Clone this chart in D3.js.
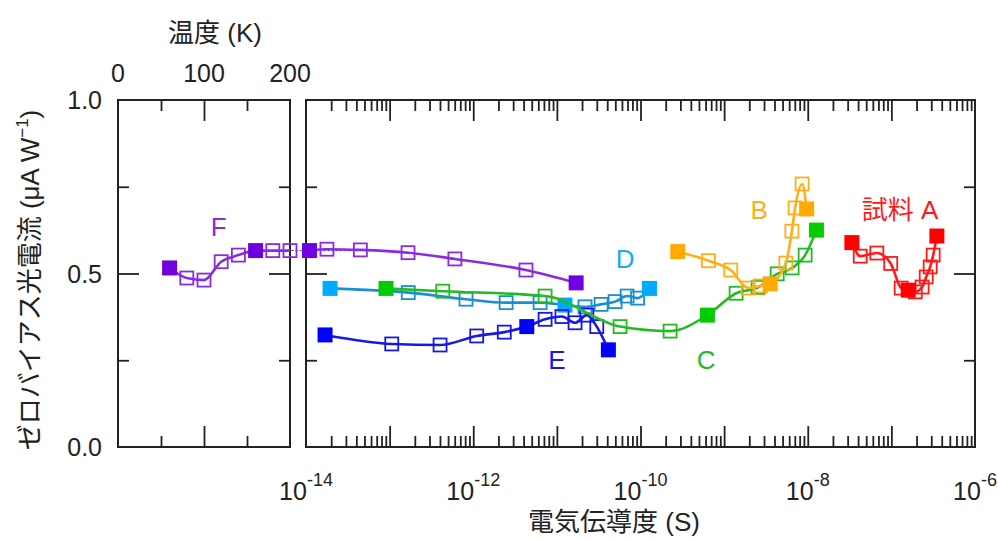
<!DOCTYPE html>
<html>
<head>
<meta charset="utf-8">
<script src="https://cdn.jsdelivr.net/npm/d3@7"></script>
<style>
  body { margin: 0; background: #fff; }
  text { font-family: "Liberation Sans", Arial, "Noto Sans CJK JP", sans-serif; fill: #222; }
</style>
</head>
<body>
<script>
// chart size
var w = 999, h = 540;

// tick labels
var tempTicks = [0, 100, 200];
var tempMinor = [50, 150];
var yTicks = [0.0, 0.5, 1.0];
var yMinor = [0.25, 0.75];
var sTickExps = [-14, -12, -10, -8, -6];

// sample F vs temperature (left panel)
var fTemp = [60, 80, 100, 120, 140, 160, 180, 200];
var fTempVal = [0.516, 0.487, 0.481, 0.534, 0.553, 0.566, 0.566, 0.566];
var fTempFill = [1, 0, 0, 0, 0, 1, 0, 0];

// samples vs conductance (right panel)
var fS = [1.10e-14, 1.78e-14, 4.47e-14, 1.66e-13, 6.03e-13, 4.27e-12, 1.70e-11];
var fVal = [0.566, 0.570, 0.568, 0.560, 0.542, 0.510, 0.473];
var fFill = [1, 0, 0, 0, 0, 0, 1];

var dS = [1.94e-14, 1.67e-13, 8.20e-13, 2.47e-12, 6.30e-12, 1.25e-11, 2.17e-11, 3.38e-11, 4.97e-11, 6.92e-11, 9.23e-11, 1.28e-10];
var dVal = [0.457, 0.445, 0.426, 0.416, 0.416, 0.409, 0.404, 0.411, 0.419, 0.435, 0.429, 0.457];
var dFill = [1, 0, 0, 0, 0, 1, 0, 0, 0, 0, 0, 1];

var eS = [1.69e-14, 1.06e-13, 4.01e-13, 1.10e-12, 2.35e-12, 4.37e-12, 7.23e-12, 1.15e-11, 1.65e-11, 2.28e-11, 3.00e-11, 4.13e-11];
var eVal = [0.323, 0.297, 0.294, 0.320, 0.331, 0.347, 0.368, 0.376, 0.358, 0.380, 0.347, 0.280];
var eFill = [1, 0, 0, 0, 0, 1, 0, 0, 0, 0, 0, 1];

var cS = [9.06e-14, 4.32e-13, 7.23e-12, 5.70e-11, 2.26e-10, 6.31e-10, 1.39e-9, 2.55e-9, 4.31e-9, 6.50e-9, 9.31e-9, 1.27e-8];
var cVal = [0.457, 0.449, 0.435, 0.347, 0.334, 0.380, 0.443, 0.460, 0.499, 0.516, 0.553, 0.625];
var cFill = [1, 0, 0, 0, 0, 1, 0, 0, 0, 0, 0, 1];

var bS = [2.79e-10, 6.49e-10, 1.20e-9, 1.94e-9, 2.70e-9, 3.55e-9, 5.47e-9, 6.46e-9, 7.06e-9, 8.57e-9, 9.70e-9];
var bVal = [0.563, 0.537, 0.510, 0.458, 0.464, 0.470, 0.530, 0.622, 0.689, 0.758, 0.686];
var bFill = [1, 0, 0, 0, 0, 1, 0, 0, 0, 0, 1];

var aS = [3.37e-8, 4.24e-8, 6.70e-8, 9.82e-8, 1.31e-7, 1.59e-7, 1.93e-7, 2.33e-7, 2.61e-7, 2.91e-7, 3.16e-7, 3.50e-7];
var aVal = [0.589, 0.550, 0.559, 0.529, 0.458, 0.452, 0.447, 0.461, 0.490, 0.519, 0.553, 0.608];
var aFill = [1, 0, 0, 0, 0, 1, 0, 0, 0, 0, 0, 1];

// series names and label anchors (conductance, value)
var seriesNames = ["F", "D", "E", "C", "B", "試料 A"];
var labelS = [null, 6.55e-11, 1.0e-11, 6.1e-10, 2.62e-9, 1.27e-7];
var labelVal = [null, 0.543, 0.251, 0.251, 0.683, 0.683];
var fLabelTemp = 117, fLabelVal = 0.634;

var svg = d3.select("body").append("svg").attr("width", w).attr("height", h);

// scales
var y = d3.scaleLinear().domain([0, 1]).range([447, 100]);
var xT = d3.scaleLinear().domain([0, 200]).range([118, 290]);
var xS = d3.scaleLog().domain([1e-14, 1e-6]).range([306, 975]);

var MAJ = 21, MIN = 11;

function ticks(g, axisFn, scale, values, len) {
  g.call(axisFn(scale).tickValues(values).tickSize(-len).tickFormat(""))
    .call(function(s) { s.select(".domain").remove(); });
  g.selectAll("line").attr("stroke", "#222").attr("stroke-width", 1.8);
}

function panel(x, majors, minors) {
  var g = svg.append("g");
  var x0 = x.range()[0], x1 = x.range()[1];
  ticks(g.append("g").attr("transform", "translate(0,447)"), d3.axisBottom, x, majors, MAJ);
  ticks(g.append("g").attr("transform", "translate(0,447)"), d3.axisBottom, x, minors, MIN);
  ticks(g.append("g").attr("transform", "translate(0,100)"), d3.axisTop, x, majors, MAJ);
  ticks(g.append("g").attr("transform", "translate(0,100)"), d3.axisTop, x, minors, MIN);
  ticks(g.append("g").attr("transform", "translate(" + x0 + ",0)"), d3.axisLeft, y, [0.5], MAJ);
  ticks(g.append("g").attr("transform", "translate(" + x0 + ",0)"), d3.axisLeft, y, yMinor, MIN);
  ticks(g.append("g").attr("transform", "translate(" + x1 + ",0)"), d3.axisRight, y, [0.5], MAJ);
  ticks(g.append("g").attr("transform", "translate(" + x1 + ",0)"), d3.axisRight, y, yMinor, MIN);
  g.append("rect")
    .attr("x", x0).attr("y", 100)
    .attr("width", x1 - x0).attr("height", 347)
    .attr("fill", "none").attr("stroke", "#222").attr("stroke-width", 2);
}

panel(xT, tempTicks.slice(1, -1), tempMinor);
var decades = d3.range(-13, -6).map(function(e) { return Math.pow(10, e); });
var minorS = xS.ticks().filter(function(v) { return decades.indexOf(v) < 0 && v > 1e-14 && v < 1e-6; });
panel(xS, decades, minorS);

// y tick labels
svg.append("g").selectAll("text").data(yTicks).enter().append("text")
  .attr("x", 102).attr("y", function(d) { return y(d); })
  .attr("dy", "0.36em").attr("text-anchor", "end")
  .attr("font-size", 25)
  .text(function(d) { return d.toFixed(1); });

// top temperature labels
svg.append("g").selectAll("text").data(tempTicks).enter().append("text")
  .attr("x", function(d) { return xT(d); }).attr("y", 82)
  .attr("text-anchor", "middle").attr("font-size", 25)
  .text(function(d) { return d; });
svg.append("text").attr("x", 215).attr("y", 42).attr("text-anchor", "middle")
  .attr("font-size", 26).text("温度 (K)");

// bottom conductance labels
var xl = svg.append("g").selectAll("text").data(sTickExps).enter().append("text")
  .attr("x", function(d) { return xS(Math.pow(10, d)); }).attr("y", 500)
  .attr("text-anchor", "middle").attr("font-size", 25);
xl.append("tspan").text("10");
xl.append("tspan").attr("dy", -14).attr("font-size", 18).text(function(d) { return "-" + Math.abs(d); });

svg.append("text").attr("x", 614).attr("y", 531).attr("text-anchor", "middle")
  .attr("font-size", 26).text("電気伝導度 (S)");

// y title
var yt = svg.append("text")
  .attr("transform", "translate(39,280) rotate(-90)")
  .attr("text-anchor", "middle").attr("font-size", 26);
yt.append("tspan").text("ゼロバイアス光電流 (μA W");
yt.append("tspan").attr("dy", -11).attr("font-size", 17).text("−1");
yt.append("tspan").attr("dy", 11).text(")");

// series drawing
var line = d3.line().curve(d3.curveMonotoneX);

function series(xs, xScale, vals, fills, fillColor, lineColor) {
  var pts = xs.map(function(v, i) { return [xScale(v), y(vals[i]), fills[i]]; });
  var g = svg.append("g");
  g.append("path").attr("d", line(pts.map(function(p) { return [p[0], p[1]]; })))
    .attr("fill", "none").attr("stroke", lineColor).attr("stroke-width", 2.6);
  g.selectAll("rect.o").data(pts.filter(function(p) { return !p[2]; })).enter().append("rect")
    .attr("x", function(p) { return p[0] - 6.5; }).attr("y", function(p) { return p[1] - 6.5; })
    .attr("width", 13).attr("height", 13)
    .attr("fill", "none").attr("stroke", lineColor).attr("stroke-width", 1.8);
  g.selectAll("rect.f").data(pts.filter(function(p) { return p[2]; })).enter().append("rect")
    .attr("x", function(p) { return p[0] - 7.5; }).attr("y", function(p) { return p[1] - 7.5; })
    .attr("width", 15).attr("height", 15)
    .attr("fill", fillColor);
}

// dotted link for F across panels
svg.append("line")
  .attr("x1", xT(fTemp[5])).attr("x2", xS(fS[2]))
  .attr("y1", y(fTempVal[5])).attr("y2", y(fTempVal[5]))
  .attr("stroke", "#333").attr("stroke-width", 1).attr("stroke-dasharray", "2,2");

var colors = {
  F: ["#7000dd", "#8a2be2"],
  D: ["#00aaff", "#1a8fd0"],
  E: ["#0000ff", "#1818e6"],
  C: ["#00cc00", "#22bb22"],
  B: ["#ffaa00", "#ffae1a"],
  A: ["#ff0000", "#ff1a1a"]
};

series(fTemp, xT, fTempVal, fTempFill, colors.F[0], colors.F[1]);
series(fS, xS, fVal, fFill, colors.F[0], colors.F[1]);
series(dS, xS, dVal, dFill, colors.D[0], colors.D[1]);
series(eS, xS, eVal, eFill, colors.E[0], colors.E[1]);
series(cS, xS, cVal, cFill, colors.C[0], colors.C[1]);
series(bS, xS, bVal, bFill, colors.B[0], colors.B[1]);
series(aS, xS, aVal, aFill, colors.A[0], colors.A[1]);

// series labels
var labelColors = [colors.F[1], "#19a9f0", colors.E[1], colors.C[1], colors.B[1], colors.A[1]];
seriesNames.forEach(function(name, i) {
  var px = i === 0 ? xT(fLabelTemp) : xS(labelS[i]);
  var py = i === 0 ? y(fLabelVal) : y(labelVal[i]);
  svg.append("text").attr("x", px).attr("y", py).attr("dy", "0.36em")
    .attr("text-anchor", "middle").attr("font-size", 26)
    .style("fill", labelColors[i]).text(name);
});
</script>
</body>
</html>
